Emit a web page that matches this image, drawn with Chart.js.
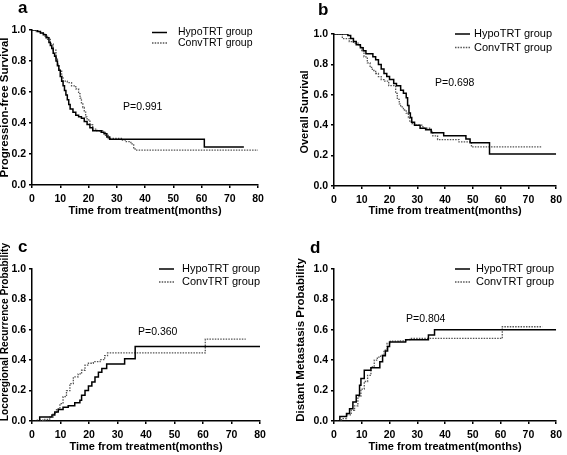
<!DOCTYPE html>
<html>
<head>
<meta charset="utf-8">
<script src="https://cdn.jsdelivr.net/npm/chart.js@4.4.0/dist/chart.umd.min.js"></script>
<style>
  html, body { margin: 0; padding: 0; background: #fff; }
  #wrap { position: relative; width: 567px; height: 455px; overflow: hidden; }
  canvas { position: absolute; }
</style>
</head>
<body>
<div id="wrap">
  <canvas id="panelA" width="283" height="225" style="left:0px;top:0px"></canvas>
  <canvas id="panelB" width="284" height="225" style="left:283px;top:0px"></canvas>
  <canvas id="panelC" width="283" height="230" style="left:0px;top:225px"></canvas>
  <canvas id="panelD" width="284" height="230" style="left:283px;top:225px"></canvas>
</div>
<script>
const FONT = '"Liberation Sans", Arial, Helvetica, sans-serif';

// shared labels
const groupLabels = ['HypoTRT group', 'ConvTRT group'];
const xTickValues = [0, 10, 20, 30, 40, 50, 60, 70, 80];
const yTickValues = [0, 0.2, 0.4, 0.6, 0.8, 1.0];
const xTitle = 'Time from treatment(months)';

// a: progression-free survival
const pfsHypoTime = [0, 2, 3, 4, 5, 6, 6.5, 7, 7.5, 8, 8.5, 9, 9.5, 10, 10.5, 11, 11.5, 12, 12.5, 13, 13.5, 14.5, 15.5, 16.5, 17.5, 18.5, 19.5, 20.5, 21.5, 24.5, 25.5, 26.5, 27.5, 61, 75];
const pfsHypoSurv = [1.0, 0.99, 0.98, 0.97, 0.95, 0.92, 0.90, 0.88, 0.85, 0.83, 0.80, 0.77, 0.74, 0.70, 0.67, 0.64, 0.61, 0.58, 0.55, 0.52, 0.49, 0.47, 0.45, 0.44, 0.43, 0.41, 0.39, 0.37, 0.35, 0.34, 0.33, 0.31, 0.295, 0.245, 0.245];
const pfsConvTime = [0, 1.5, 3, 4.5, 5.5, 6.5, 7.5, 8.5, 9, 9.5, 10.5, 11, 12.5, 14, 15.5, 16.5, 17, 17.5, 18, 18.5, 19, 19.5, 20.5, 21.5, 23, 25, 26, 27, 32, 33, 35, 36, 36.5, 80];
const pfsConvSurv = [1.0, 0.99, 0.98, 0.96, 0.94, 0.91, 0.87, 0.82, 0.78, 0.74, 0.70, 0.67, 0.66, 0.64, 0.62, 0.59, 0.56, 0.53, 0.50, 0.47, 0.44, 0.42, 0.39, 0.36, 0.35, 0.34, 0.32, 0.30, 0.29, 0.28, 0.265, 0.24, 0.225, 0.225];

// b: overall survival
const osHypoTime = [0, 5, 6, 7, 8, 9.5, 10.5, 11.5, 14, 15, 16, 17, 18, 19, 20, 21.5, 22.5, 24, 25, 26, 26.5, 27, 27.5, 28, 29, 31, 33, 35, 39.5, 47.5, 49, 56, 80];
const osHypoSurv = [1.0, 0.99, 0.97, 0.95, 0.93, 0.91, 0.89, 0.87, 0.85, 0.83, 0.80, 0.77, 0.74, 0.72, 0.70, 0.675, 0.66, 0.63, 0.61, 0.58, 0.53, 0.48, 0.45, 0.42, 0.40, 0.38, 0.37, 0.35, 0.33, 0.31, 0.285, 0.21, 0.21];
const osConvTime = [0, 3, 5.5, 7, 9, 10, 10.8, 12, 13, 13.8, 15, 16, 17, 18, 19.7, 22.2, 22.8, 23.5, 24, 25, 26, 26.8, 27.3, 28, 29, 32, 35, 35.6, 37.3, 45, 49.5, 75];
const osConvSurv = [1.0, 0.97, 0.95, 0.94, 0.92, 0.89, 0.85, 0.81, 0.78, 0.76, 0.74, 0.72, 0.70, 0.69, 0.66, 0.61, 0.57, 0.54, 0.52, 0.50, 0.48, 0.45, 0.42, 0.41, 0.40, 0.38, 0.36, 0.33, 0.305, 0.29, 0.257, 0.257];

// c: locoregional recurrence
const lrrHypoTime = [0, 2.7, 7, 8, 9.2, 10.9, 12.7, 15, 16.8, 17.4, 18.6, 19.8, 21, 22.1, 23.3, 24.5, 26.2, 32.5, 36.2, 80];
const lrrHypoProb = [0, 0.026, 0.04, 0.06, 0.075, 0.09, 0.10, 0.12, 0.136, 0.17, 0.20, 0.23, 0.257, 0.29, 0.32, 0.345, 0.375, 0.41, 0.49, 0.49];
const lrrConvTime = [0, 1.5, 4.5, 6.2, 7.4, 8.6, 9.8, 10.9, 12.1, 13.3, 14.5, 16.2, 17.4, 18.6, 19.8, 21.5, 23.9, 25.5, 26.5, 60.8, 75];
const lrrConvProb = [0, 0.005, 0.01, 0.026, 0.05, 0.08, 0.114, 0.16, 0.20, 0.246, 0.29, 0.31, 0.334, 0.367, 0.38, 0.39, 0.404, 0.43, 0.448, 0.538, 0.538];

// d: distant metastasis
const dmHypoTime = [0, 2.1, 4.5, 5.6, 6.8, 8, 9.2, 9.7, 10.9, 13.3, 16.5, 17.5, 18.5, 19.3, 20, 25.8, 34, 36.2, 80];
const dmHypoProb = [0, 0.03, 0.05, 0.08, 0.125, 0.17, 0.235, 0.28, 0.334, 0.35, 0.39, 0.43, 0.46, 0.49, 0.52, 0.535, 0.565, 0.60, 0.60];
const dmConvTime = [0, 2.7, 4.5, 6.2, 7.4, 8.6, 9.7, 10.9, 12.1, 13.3, 14.5, 15.6, 16.8, 18, 19.1, 20.3, 23.2, 26.2, 27.3, 60.6, 75];
const dmConvProb = [0, 0.015, 0.04, 0.07, 0.10, 0.16, 0.21, 0.26, 0.30, 0.356, 0.40, 0.42, 0.433, 0.466, 0.51, 0.525, 0.527, 0.536, 0.543, 0.62, 0.62];

function toPoints(times, vals) {
    return times.map((t, i) => ({ x: t, y: vals[i] }));
}

// letter, p value, legend and y title drawn on top of each panel
function textPlugin(t) {
    return {
        id: 'panelText',
        afterDraw(chart) {
            const ctx = chart.ctx;
            ctx.save();
            ctx.fillStyle = '#000';
            ctx.textAlign = 'left';
            ctx.textBaseline = 'alphabetic';
            ctx.font = `bold 17px ${FONT}`;
            ctx.fillText(t.letter, t.letterX, t.letterY);

            ctx.textBaseline = 'middle';
            ctx.font = `10.5px ${FONT}`;
            ctx.fillText(t.pValue, t.pX, t.pY);

            chart.data.datasets.forEach((ds, i) => {
                const y = t.legendY[i];
                ctx.beginPath();
                ctx.strokeStyle = ds.borderColor;
                ctx.lineWidth = ds.borderWidth;
                ctx.setLineDash(ds.borderDash || []);
                ctx.moveTo(t.legendX, y);
                ctx.lineTo(t.legendX + 15, y);
                ctx.stroke();
                ctx.setLineDash([]);
                ctx.font = `${t.legendSize}px ${FONT}`;
                ctx.fillText(ds.label, t.legendTextX, y);
            });

            ctx.translate(t.yTitleX, t.yTitleY);
            ctx.rotate(-Math.PI / 2);
            ctx.textAlign = 'center';
            ctx.font = `bold ${t.yTitleSize}px ${FONT}`;
            ctx.fillText(t.yTitle, 0, 0);
            ctx.restore();
        }
    };
}

function makePanel(id, p) {
    const el = document.getElementById(id);
    const W = el.width, H = el.height;
    const tickFont = { family: FONT, size: 10.5, weight: 'bold' };
    return new Chart(el, {
        type: 'line',
        data: {
            datasets: [
                {
                    label: groupLabels[0],
                    data: toPoints(p.hypoT, p.hypoV),
                    borderColor: '#000',
                    borderWidth: 1.5,
                    stepped: true,
                    pointRadius: 0,
                    fill: false
                },
                {
                    label: groupLabels[1],
                    data: toPoints(p.convT, p.convV),
                    borderColor: '#555',
                    borderWidth: 1.3,
                    borderDash: [1.5, 1.2],
                    stepped: true,
                    pointRadius: 0,
                    fill: false
                }
            ]
        },
        options: {
            responsive: false,
            animation: false,
            devicePixelRatio: 1,
            layout: { padding: { left: 0, top: p.area.top, right: W - p.area.right, bottom: 0 } },
            plugins: { legend: { display: false }, tooltip: { enabled: false } },
            scales: {
                x: {
                    type: 'linear',
                    min: 0,
                    max: 80,
                    afterFit: s => { s.height = H - p.area.bottom; },
                    afterBuildTicks: s => { s.ticks = xTickValues.map(v => ({ value: v })); },
                    grid: { drawOnChartArea: false, tickLength: 3, color: '#000', lineWidth: 1.5 },
                    border: { color: '#000', width: 1.5 },
                    ticks: { font: tickFont, color: '#000', padding: 5, maxRotation: 0 },
                    title: {
                        display: true,
                        text: xTitle,
                        color: '#000',
                        font: { family: FONT, size: 11, weight: 'bold' },
                        padding: { top: 0, bottom: p.xTitlePad }
                    }
                },
                y: {
                    min: 0,
                    max: 1,
                    afterFit: s => { s.width = p.area.left; },
                    afterBuildTicks: s => { s.ticks = yTickValues.map(v => ({ value: v })); },
                    grid: { drawOnChartArea: false, tickLength: 3, color: '#000', lineWidth: 1.5 },
                    border: { color: '#000', width: 1.5 },
                    ticks: { font: tickFont, color: '#000', padding: 3, callback: v => v.toFixed(1) }
                }
            }
        },
        plugins: [textPlugin(p.text)]
    });
}

makePanel('panelA', {
    hypoT: pfsHypoTime, hypoV: pfsHypoSurv, convT: pfsConvTime, convV: pfsConvSurv,
    area: { left: 32, right: 258, top: 30, bottom: 185 },
    xTitlePad: 7,
    text: {
        letter: 'a', letterX: 18, letterY: 13,
        pValue: 'P=0.991', pX: 123, pY: 107,
        legendX: 152, legendTextX: 178, legendY: [32.5, 43], legendSize: 10.5,
        yTitle: 'Progression-free Survival', yTitleX: 5, yTitleY: 107.5, yTitleSize: 11.5
    }
});

makePanel('panelB', {
    hypoT: osHypoTime, hypoV: osHypoSurv, convT: osConvTime, convV: osConvSurv,
    area: { left: 51, right: 277, top: 34, bottom: 186 },
    xTitlePad: 7,
    text: {
        letter: 'b', letterX: 35, letterY: 15,
        pValue: 'P=0.698', pX: 152, pY: 83,
        legendX: 172, legendTextX: 191, legendY: [34, 47.5], legendSize: 11,
        yTitle: 'Overall Survival', yTitleX: 22, yTitleY: 112, yTitleSize: 11
    }
});

makePanel('panelC', {
    hypoT: lrrHypoTime, hypoV: lrrHypoProb, convT: lrrConvTime, convV: lrrConvProb,
    area: { left: 32, right: 260, top: 44, bottom: 196 },
    xTitlePad: 1,
    text: {
        letter: 'c', letterX: 18, letterY: 27,
        pValue: 'P=0.360', pX: 138, pY: 107,
        legendX: 159, legendTextX: 182, legendY: [44, 57], legendSize: 11,
        yTitle: 'Locoregional Recurrence Probability', yTitleX: 5.5, yTitleY: 107, yTitleSize: 10.2
    }
});

makePanel('panelD', {
    hypoT: dmHypoTime, hypoV: dmHypoProb, convT: dmConvTime, convV: dmConvProb,
    area: { left: 51, right: 278, top: 44, bottom: 196 },
    xTitlePad: 1,
    text: {
        letter: 'd', letterX: 27, letterY: 28,
        pValue: 'P=0.804', pX: 123, pY: 94,
        legendX: 172, legendTextX: 193, legendY: [44, 57], legendSize: 11,
        yTitle: 'Distant Metastasis Probability', yTitleX: 18, yTitleY: 115, yTitleSize: 11.5
    }
});
</script>
</body>
</html>
